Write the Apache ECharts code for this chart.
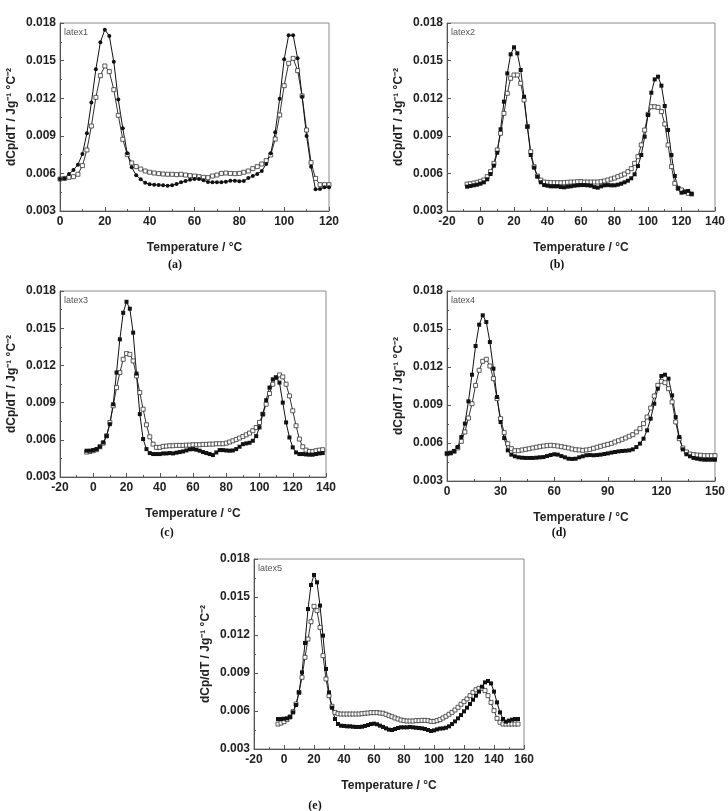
<!DOCTYPE html>
<html>
<head>
<meta charset="utf-8">
<script src="https://cdn.jsdelivr.net/npm/echarts@6/dist/echarts.min.js"></script>
<style>
  html, body { margin: 0; padding: 0; background: #fff; }
  #chart { width: 728px; height: 811px; }
</style>
</head>
<body>
<div id="chart"></div>
<script>
// latex1 (a)
var tempA = [0,2,4,6,8,10,12,14,16,18,20,22,24,26,28,30,32,34,36,38,40,42,44,46,48,50,52,54,56,58,60,
  62,64,66,68,70,72,74,76,78,80,82,84,86,88,90,92,94,96,98,100,102,104,106,108,110,112,114,116,118,120];
var filledA = [0.00555,0.0056,0.00595,0.00627,0.0067,0.00755,0.0092,0.01165,0.0143,0.01646,
  0.01747,0.01696,0.0149,0.0119,0.0096,0.0076,0.0065,0.00585,0.00553,0.00526,
  0.00513,0.0051,0.00507,0.00505,0.00502,0.00505,0.00515,0.00529,0.0054,0.0055,
  0.00555,0.00555,0.00545,0.00531,0.00529,0.00529,0.00529,0.00534,0.00542,0.00542,
  0.00537,0.0054,0.00563,0.00579,0.00595,0.00619,0.00675,0.0076,0.00928,0.01196,
  0.0151,0.01702,0.01702,0.01518,0.01212,0.00898,0.00654,0.00473,0.00476,0.00489,0.00489];
var openA = [0.00555,0.0056,0.00569,0.00574,0.00593,0.00662,0.00787,0.00978,0.01207,0.0138,
  0.01457,0.01412,0.01268,0.01063,0.00872,0.0075,0.00683,0.00654,0.00635,0.00619,
  0.00609,0.00603,0.00598,0.00595,0.00593,0.00593,0.0059,0.00593,0.00587,0.00582,
  0.00579,0.00574,0.00569,0.00566,0.00579,0.00587,0.006,0.00603,0.006,0.00598,
  0.006,0.00609,0.00619,0.00638,0.00654,0.00675,0.00702,0.00747,0.00874,0.01066,
  0.013,0.01478,0.01518,0.0142,0.01218,0.00946,0.00686,0.0056,0.0051,0.0051,0.0051];

// latex2 (b)
var tempB = [-8,-6,-4,-2,0,2,4,6,8,10,12,14,16,18,20,22,24,26,28,30,32,34,36,38,40,42,44,46,48,50,
  52,54,56,58,60,62,64,66,68,70,72,74,76,78,80,82,84,86,88,90,92,94,96,98,100,102,104,106,108,110,
  112,114,116,118,120,122,124,126];
var filledB = [0.00494,0.00499,0.00505,0.0051,0.00518,0.00529,0.00553,0.00595,0.00662,0.00765,
  0.00952,0.01172,0.01398,0.0155,0.01606,0.01558,0.01425,0.01212,0.00973,0.00747,
  0.00646,0.00574,0.00529,0.00507,0.00502,0.00497,0.00497,0.00497,0.00491,0.00489,
  0.00494,0.00497,0.00502,0.00505,0.00507,0.00507,0.00505,0.00502,0.00491,0.00486,
  0.00497,0.00505,0.00507,0.00505,0.00505,0.0051,0.00518,0.00529,0.00542,0.00561,
  0.00593,0.00659,0.00747,0.00893,0.01066,0.01244,0.0135,0.01372,0.013,0.01138,
  0.00946,0.00747,0.00579,0.00481,0.00446,0.00452,0.0046,0.00436];
var openB = [0.00515,0.00518,0.00523,0.00529,0.00537,0.00547,0.00574,0.00614,0.0068,0.00787,
  0.0092,0.01079,0.01239,0.01359,0.01385,0.01385,0.01319,0.01186,0.00973,0.00773,
  0.00654,0.00579,0.00547,0.00531,0.00529,0.00526,0.00526,0.00526,0.00526,0.00526,
  0.00529,0.00531,0.00531,0.00534,0.00534,0.00531,0.00531,0.00531,0.00531,0.00531,
  0.00534,0.00539,0.00547,0.00555,0.00563,0.00574,0.00585,0.00595,0.00614,0.00638,
  0.0068,0.00734,0.00827,0.00946,0.01071,0.01132,0.01132,0.01127,0.01093,0.00994,
  0.00827,0.00654,0.00521,0.00481,0.00468,0.00454,0.00441,0.00436];

// latex3 (c)
var tempC = [-4,-2,0,2,4,6,8,10,12,14,16,18,20,22,24,26,28,30,32,34,36,38,40,42,44,46,48,50,
  52,54,56,58,60,62,64,66,68,70,72,74,76,78,80,82,84,86,88,90,92,94,96,98,100,102,104,106,108,110,
  112,114,116,118,120,122,124,126,128,130,132,134,136,138];
var filledC = [0.00512,0.00512,0.00517,0.00525,0.00544,0.00579,0.0063,0.00726,0.00887,0.01142,
  0.0141,0.01624,0.01713,0.01657,0.01464,0.01134,0.00807,0.00606,0.00525,0.00493,
  0.00485,0.00485,0.00485,0.0049,0.0049,0.00493,0.0049,0.00496,0.00501,0.00506,
  0.00514,0.00523,0.00525,0.0052,0.00512,0.00501,0.00493,0.00485,0.00477,0.00498,
  0.00517,0.00517,0.00514,0.00512,0.00514,0.00525,0.00544,0.00565,0.00571,0.00576,
  0.00592,0.0063,0.007,0.00807,0.00919,0.01021,0.01088,0.01102,0.01061,0.009,
  0.0074,0.00619,0.00539,0.00498,0.00485,0.00485,0.00482,0.0048,0.0048,0.00485,0.0049,0.00493];
var openC = [0.00501,0.00506,0.00512,0.0052,0.00544,0.00573,0.00632,0.0074,0.00874,0.01021,
  0.01142,0.01249,0.01295,0.01289,0.01236,0.01115,0.00981,0.00847,0.00721,0.00624,
  0.00565,0.00539,0.00539,0.00547,0.00549,0.00552,0.00552,0.00555,0.00555,0.00555,
  0.00557,0.00557,0.0056,0.0056,0.0056,0.00563,0.00563,0.00565,0.00565,0.00568,
  0.00568,0.00568,0.00573,0.00582,0.00592,0.00603,0.00614,0.00627,0.0064,0.00654,
  0.00673,0.00699,0.0074,0.00807,0.00887,0.00973,0.01048,0.01102,0.01123,0.01107,
  0.01048,0.00954,0.00834,0.00713,0.00606,0.00544,0.00517,0.00506,0.00506,0.00512,0.00517,0.0052];

// latex4 (d)
var tempD = [0,2,4,6,8,10,12,14,16,18,20,22,24,26,28,30,32,34,36,38,40,42,44,46,48,50,
  52,54,56,58,60,62,64,66,68,70,72,74,76,78,80,82,84,86,88,90,92,94,96,98,100,102,104,106,108,110,
  112,114,116,118,120,122,124,126,128,130,132,134,136,138,140,142,144,146,148,150];
var filledD = [0.00516,0.00521,0.00537,0.00568,0.00647,0.00753,0.00929,0.01139,0.01366,0.01534,
  0.01608,0.01555,0.01397,0.01187,0.00963,0.00766,0.00639,0.00542,0.00508,0.00495,
  0.00487,0.00484,0.00482,0.00482,0.00482,0.00484,0.00487,0.00489,0.00497,0.00505,
  0.00511,0.00508,0.00497,0.00487,0.00476,0.00474,0.00476,0.00487,0.00495,0.00503,
  0.00505,0.00503,0.00505,0.00508,0.00513,0.00518,0.00524,0.00529,0.00534,0.00537,
  0.00539,0.00542,0.0055,0.00568,0.00595,0.00634,0.007,0.00792,0.0091,0.01029,
  0.01129,0.01139,0.01108,0.00976,0.00805,0.00647,0.0055,0.00511,0.00495,0.00482,
  0.00476,0.00471,0.00468,0.00468,0.00468,0.00468];
var openD = [0.00516,0.00521,0.00534,0.00561,0.00613,0.00687,0.00797,0.0091,0.01055,0.01174,
  0.01245,0.01261,0.01208,0.01108,0.0095,0.00792,0.00682,0.00595,0.00555,0.00539,
  0.00539,0.00545,0.0055,0.00555,0.00561,0.00566,0.00571,0.00576,0.00579,0.00582,
  0.00579,0.00576,0.00571,0.00566,0.00561,0.00553,0.00547,0.00545,0.00542,0.00545,
  0.0055,0.00558,0.00566,0.00574,0.00582,0.00589,0.00597,0.00608,0.00618,0.00629,
  0.0064,0.00653,0.00666,0.00687,0.00713,0.00753,0.00805,0.00876,0.00971,0.01055,
  0.01087,0.01076,0.01029,0.00924,0.00766,0.00634,0.00561,0.00529,0.00513,0.00508,
  0.00505,0.00503,0.005,0.005,0.005,0.005];

// latex5 (e)
var tempE = [-4,-2,0,2,4,6,8,10,12,14,16,18,20,22,24,26,28,30,32,34,36,38,40,42,44,46,48,50,
  52,54,56,58,60,62,64,66,68,70,72,74,76,78,80,82,84,86,88,90,92,94,96,98,100,102,104,106,108,110,
  112,114,116,118,120,122,124,126,128,130,132,134,136,138,140,142,144,146,148,150,152,154,156];
var filledE = [0.00537,0.00537,0.00539,0.00542,0.00553,0.00589,0.00647,0.00747,0.00905,0.01137,
  0.01405,0.01595,0.01674,0.01616,0.01432,0.01195,0.00932,0.00747,0.00626,0.00537,
  0.00497,0.00484,0.00482,0.00479,0.00479,0.00476,0.00474,0.00474,0.00476,0.00482,
  0.00489,0.00497,0.005,0.00495,0.00484,0.00474,0.00463,0.00453,0.0045,0.00458,
  0.00466,0.00471,0.00471,0.00471,0.00474,0.00471,0.00468,0.00466,0.00463,0.00458,
  0.0045,0.00442,0.00447,0.00455,0.00461,0.00463,0.00468,0.00479,0.00497,0.00518,
  0.00542,0.00568,0.00597,0.00626,0.00655,0.00689,0.00721,0.00753,0.00792,0.00826,
  0.00837,0.00818,0.00753,0.00668,0.00589,0.00537,0.00516,0.00524,0.00532,0.00537,0.00537];
var openE = [0.00497,0.00505,0.00516,0.00532,0.00553,0.00595,0.00655,0.00747,0.00866,0.01024,
  0.01168,0.01305,0.01426,0.01392,0.0126,0.01037,0.00853,0.00721,0.00637,0.00589,
  0.00579,0.00576,0.00576,0.00576,0.00576,0.00576,0.00576,0.00576,0.00579,0.00582,
  0.00584,0.00587,0.00587,0.00587,0.00584,0.00582,0.00574,0.00563,0.00555,0.00545,
  0.00537,0.00529,0.00524,0.00521,0.00521,0.00521,0.00524,0.00524,0.00526,0.00526,
  0.00524,0.00518,0.00518,0.00524,0.00532,0.00545,0.00558,0.00574,0.00589,0.00608,
  0.00629,0.00653,0.00674,0.00695,0.00721,0.00747,0.00768,0.00779,0.00779,0.00761,
  0.00721,0.00668,0.00603,0.00542,0.00511,0.00497,0.00497,0.00497,0.00497,0.00497,0.00497];

var panels = [
  { tag: '(a)', name: 'latex1', temp: tempA, filled: filledA, open: openA, dot: 'circle',
    xMin: 0, xMax: 120, xStep: 20, box: [60, 23, 269, 188], tagPos: [175, 265] },
  { tag: '(b)', name: 'latex2', temp: tempB, filled: filledB, open: openB, dot: 'rect',
    xMin: -20, xMax: 140, xStep: 20, box: [447, 23, 269, 188], tagPos: [557, 265] },
  { tag: '(c)', name: 'latex3', temp: tempC, filled: filledC, open: openC, dot: 'rect',
    xMin: -20, xMax: 140, xStep: 20, box: [60, 291, 266, 186], tagPos: [167, 533] },
  { tag: '(d)', name: 'latex4', temp: tempD, filled: filledD, open: openD, dot: 'rect',
    xMin: 0, xMax: 150, xStep: 30, box: [447, 291, 271, 190], tagPos: [559, 533] },
  { tag: '(e)', name: 'latex5', temp: tempE, filled: filledE, open: openE, dot: 'rect',
    xMin: -20, xMax: 160, xStep: 20, box: [254, 559, 270, 190], tagPos: [315, 806] }
];

function pairs(xs, ys) {
  return xs.map(function (x, i) { return [x, ys[i]]; });
}

var labelFont = { fontFamily: 'Liberation Sans, Arial, sans-serif', fontWeight: 'bold', fontSize: 12, color: '#222' };

var grids = [], xAxes = [], yAxes = [], series = [], graphics = [];

panels.forEach(function (p, i) {
  grids.push({
    left: p.box[0], top: p.box[1], width: p.box[2], height: p.box[3],
    show: true, borderColor: '#8a8a8a', borderWidth: 1, containLabel: false
  });
  xAxes.push({
    gridIndex: i, type: 'value', min: p.xMin, max: p.xMax, interval: p.xStep,
    name: 'Temperature / °C', nameLocation: 'middle', nameGap: 31,
    nameTextStyle: labelFont,
    axisLine: { onZero: false, lineStyle: { color: '#555', width: 1 } },
    axisTick: { inside: true, length: 4, lineStyle: { color: '#555' } },
    minorTick: { show: true, splitNumber: 2, length: 2, lineStyle: { color: '#555' } },
    axisLabel: Object.assign({ margin: 5 }, labelFont),
    splitLine: { show: false }
  });
  yAxes.push({
    gridIndex: i, type: 'value', min: 0.003, max: 0.018, interval: 0.003,
    name: 'dCp/dT / Jg⁻¹ °C⁻²', nameLocation: 'middle', nameGap: 42,
    nameTextStyle: labelFont,
    axisLine: { onZero: false, lineStyle: { color: '#555', width: 1 } },
    axisTick: { inside: true, length: 4, lineStyle: { color: '#555' } },
    minorTick: { show: true, splitNumber: 2, length: 2, lineStyle: { color: '#555' } },
    axisLabel: Object.assign({ margin: 4, formatter: function (v) { return v.toFixed(3); } }, labelFont),
    splitLine: { show: false }
  });
  series.push({
    type: 'line', xAxisIndex: i, yAxisIndex: i, data: pairs(p.temp, p.open),
    symbol: 'rect', symbolSize: 4, showAllSymbol: true,
    lineStyle: { color: '#333', width: 1 },
    itemStyle: { color: '#fff', borderColor: '#333', borderWidth: 0.8 },
    animation: false
  });
  series.push({
    type: 'line', xAxisIndex: i, yAxisIndex: i, data: pairs(p.temp, p.filled),
    symbol: p.dot, symbolSize: 4, showAllSymbol: true,
    lineStyle: { color: '#111', width: 1 },
    itemStyle: { color: '#111' },
    animation: false
  });
  graphics.push({
    type: 'text', left: p.box[0] + 4, top: p.box[1] + 5,
    style: { text: p.name, fontSize: 9, fontFamily: 'Liberation Sans, Arial, sans-serif', fill: '#555' }
  });
  graphics.push({
    type: 'text', x: p.tagPos[0], y: p.tagPos[1],
    style: { text: p.tag, fontSize: 12, fontWeight: 'bold', fontFamily: 'Liberation Serif, Times New Roman, serif',
      fill: '#111', textAlign: 'center', textVerticalAlign: 'middle' }
  });
});

var myChart = echarts.init(document.getElementById('chart'));
myChart.setOption({
  animation: false,
  backgroundColor: '#fff',
  grid: grids,
  xAxis: xAxes,
  yAxis: yAxes,
  series: series,
  graphic: graphics
});
</script>
</body>
</html>
